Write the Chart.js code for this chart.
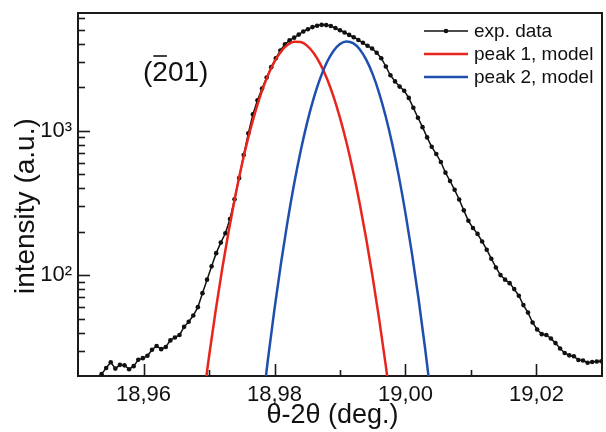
<!DOCTYPE html>
<html><head><meta charset="utf-8">
<script src="https://cdn.jsdelivr.net/npm/chart.js@4"></script>
<style>html,body{margin:0;padding:0;background:#fff}canvas{display:block}</style>
</head><body>
<canvas id="c" width="606" height="432"></canvas>
<script>
// ---- data ----
const expX = [18.9536,18.9543,18.9550,18.9557,18.9564,18.9571,18.9578,18.9585,18.9592,18.9599,
18.9606,18.9613,18.9620,18.9627,18.9634,18.9641,18.9648,18.9655,18.9662,18.9669,
18.9676,18.9683,18.9690,18.9697,18.9704,18.9711,18.9718,18.9725,18.9732,18.9739,
18.9746,18.9753,18.9760,18.9767,18.9774,18.9781,18.9788,18.9795,18.9802,18.9809,
18.9816,18.9823,18.9830,18.9837,18.9844,18.9851,18.9858,18.9865,18.9872,18.9879,
18.9886,18.9893,18.9900,18.9907,18.9914,18.9921,18.9928,18.9935,18.9942,18.9949,
18.9956,18.9963,18.9970,18.9977,18.9984,18.9991,18.9998,19.0005,19.0012,19.0019,
19.0026,19.0033,19.0040,19.0047,19.0054,19.0061,19.0068,19.0075,19.0082,19.0089,
19.0096,19.0103,19.0110,19.0117,19.0124,19.0131,19.0138,19.0145,19.0152,19.0159,
19.0166,19.0173,19.0180,19.0187,19.0194,19.0201,19.0208,19.0215,19.0222,19.0229,
19.0236,19.0243,19.0250,19.0257,19.0264,19.0271,19.0278,19.0285,19.0292,19.0299];
const expY = [20.6,22.7,24.9,22.5,23.9,23.7,22.3,23.4,25.9,26.6,
27.6,30.4,32.3,30.7,31.8,35.3,37.0,38.5,43.8,47.5,
52.5,60,75,93,115,142,168,195,245,335,
470,680,960,1300,1630,1960,2340,2760,3180,3600,
3980,4230,4420,4640,4880,5060,5230,5350,5420,5400,
5320,5150,4980,4800,4620,4450,4260,4070,3880,3720,
3470,3185,2790,2425,2200,2025,1895,1690,1443,1232,
1060,900,775,690,608,513,449,390,334,281,
238,212,193,171,150,130,113,100,93,88,
80,72,62,55,47,42,39,38.5,36.4,33.8,
31,28.9,27.8,27.4,25.8,25.6,24.7,25.0,25.2,25.3];
const peak1X = [18.969,18.970,18.971,18.972,18.973,18.974,18.975,18.976,18.977,18.978,
18.979,18.980,18.981,18.982,18.983,18.984,18.985,18.986,18.987,18.988,
18.989,18.990,18.991,18.992,18.993,18.994,18.995,18.996,18.997,18.998];
const peak1Y = [12.5,27.2,56.1,109.3,201.2,350.4,577.1,898.1,1322,1840,
2421,3013,3544,3943,4146,4123,3877,3446,2897,2302,
1730,1229,825.8,524.6,315.1,178.9,96.0,48.8,23.4,10.6];
const peak2X = [18.978,18.979,18.980,18.981,18.982,18.983,18.984,18.985,18.986,18.987,
18.988,18.989,18.990,18.991,18.992,18.993,18.994,18.995,18.996,18.997,
18.998,18.999,19.000,19.001,19.002,19.003,19.004];
const peak2Y = [10.9,26.1,58.4,121.6,236.5,429.0,726.5,1148,1692,2327,
2986,3575,3994,4164,4050,3675,3112,2459,1813,1247,
800.5,479.5,267.9,139.7,68.0,30.9,13.1];
const seriesNames = ['exp. data','peak 1, model','peak 2, model'];
const xMajorTicks = [18.96,18.98,19.00,19.02];
const xMinorTicks = [18.97,18.99,19.01];
const yMajorTicks = [100,1000];
const yTickLabels = ['10\u00B2','10\u00B3'];
const yMinorTicks = [30,40,50,60,70,80,90,200,300,400,500,600,700,800,900,2000,3000,4000,5000,6000];
const xTitle = '\u03B8-2\u03B8 (deg.)  ';
const yTitle = 'intensity (a.u.)   ';
const reflexParts = ['(', '2', '01)']; // bar over the middle part

// ---- styling ----
const FONT = "'Liberation Sans', Arial, sans-serif";
const AXIS = '#1a1a1a';
const colors = ['#111111', '#e8251c', '#1f4fae'];
const pts = (xs, ys) => xs.map((x, i) => ({x, y: ys[i]}));

const framePlugin = {
  id: 'frame',
  afterDatasetsDraw(chart) {
    const {ctx, chartArea: a, scales: {x, y}} = chart;
    ctx.save();
    ctx.strokeStyle = AXIS;
    ctx.lineWidth = 2;
    ctx.beginPath();
    ctx.moveTo(a.left, a.top); ctx.lineTo(a.right, a.top); ctx.lineTo(a.right, a.bottom);
    ctx.stroke();
    ctx.lineWidth = 1.6;
    const xt = (v, len) => { const p = Math.round(x.getPixelForValue(v)) + 0.5; ctx.beginPath(); ctx.moveTo(p, a.bottom); ctx.lineTo(p, a.bottom - len); ctx.stroke(); };
    const yt = (v, len) => { const p = Math.round(y.getPixelForValue(v)) + 0.5; ctx.beginPath(); ctx.moveTo(a.left, p); ctx.lineTo(a.left + len, p); ctx.stroke(); };
    xMajorTicks.forEach(v => xt(v, 12));
    xMinorTicks.forEach(v => xt(v, 6));
    yMajorTicks.forEach(v => yt(v, 12));
    yMinorTicks.forEach(v => yt(v, 7));
    // legend
    ctx.font = '19px ' + FONT;
    ctx.textBaseline = 'middle';
    ctx.textAlign = 'left';
    chart.data.datasets.forEach((ds, i) => {
      const cy = a.top + 18 + i * 23;
      const x0 = a.right - 178, x1 = a.right - 134;
      ctx.strokeStyle = ds.borderColor; ctx.lineWidth = ds.borderWidth;
      ctx.beginPath(); ctx.moveTo(x0, cy); ctx.lineTo(x1, cy); ctx.stroke();
      if (ds.pointRadius > 0) {
        ctx.fillStyle = ds.pointBackgroundColor;
        ctx.beginPath(); ctx.arc((x0 + x1) / 2, cy, ds.pointRadius, 0, Math.PI * 2); ctx.fill();
      }
      ctx.fillStyle = '#111';
      ctx.fillText(ds.label, x1 + 6, cy + 1);
    });
    // reflection label with bar over the 2
    ctx.font = '28px ' + FONT;
    ctx.fillStyle = '#111';
    const lx = a.left + 65, ly = a.top + 60;
    ctx.fillText(reflexParts.join(''), lx, ly);
    const w0 = ctx.measureText(reflexParts[0]).width, w1 = ctx.measureText(reflexParts[1]).width;
    ctx.strokeStyle = '#111'; ctx.lineWidth = 1.6;
    ctx.beginPath(); ctx.moveTo(lx + w0 + 1, a.top + 43); ctx.lineTo(lx + w0 + w1 - 1, a.top + 43); ctx.stroke();
    ctx.restore();
  }
};

new Chart(document.getElementById('c'), {
  type: 'line',
  data: {
    datasets: [
      {label: seriesNames[0], data: pts(expX, expY), borderColor: colors[0], backgroundColor: colors[0],
       pointBackgroundColor: colors[0], pointBorderWidth: 0, pointRadius: 2.3, borderWidth: 1.5, order: 2, tension: 0},
      {label: seriesNames[1], data: pts(peak1X, peak1Y), borderColor: colors[1], backgroundColor: colors[1],
       pointRadius: 0, borderWidth: 2.5, order: 1, cubicInterpolationMode: 'monotone'},
      {label: seriesNames[2], data: pts(peak2X, peak2Y), borderColor: colors[2], backgroundColor: colors[2],
       pointRadius: 0, borderWidth: 2.5, order: 0, cubicInterpolationMode: 'monotone'}
    ]
  },
  options: {
    responsive: false,
    animation: false,
    devicePixelRatio: 1,
    layout: {padding: {top: 13, right: 1, left: 0, bottom: 0}},
    plugins: {legend: {display: false}, tooltip: {enabled: false}},
    scales: {
      x: {
        type: 'linear', min: 18.95, max: 19.03,
        afterBuildTicks: s => { s.ticks = xMajorTicks.map(v => ({value: v})); },
        afterFit: s => { s.height = 56; s.paddingLeft = 0; s.paddingRight = 0; },
        grid: {display: false, drawTicks: false},
        border: {display: true, color: AXIS, width: 2},
        ticks: {autoSkip: false, maxRotation: 0, padding: 6, color: '#111',
                font: {family: FONT, size: 22},
                callback: v => Number(v).toFixed(2).replace('.', ',')},
        title: {display: true, text: xTitle, color: '#111', font: {family: FONT, size: 27, lineHeight: 1}, padding: {top: 0, bottom: 3}}
      },
      y: {
        type: 'logarithmic', min: 20, max: 6550,
        afterBuildTicks: s => { s.ticks = yMajorTicks.map(v => ({value: v})); },
        afterFit: s => { s.width = 78; s.paddingTop = 0; s.paddingBottom = 0; },
        grid: {display: false, drawTicks: false},
        border: {display: true, color: AXIS, width: 2},
        ticks: {autoSkip: false, padding: 6, color: '#111',
                font: {family: FONT, size: 22},
                callback: v => { const i = yMajorTicks.indexOf(Number(v)); return i >= 0 ? yTickLabels[i] : ''; }},
        title: {display: true, text: yTitle, color: '#111', font: {family: FONT, size: 28}, padding: {top: 9, bottom: 0}}
      }
    }
  },
  plugins: [framePlugin]
});
</script>
</body></html>
